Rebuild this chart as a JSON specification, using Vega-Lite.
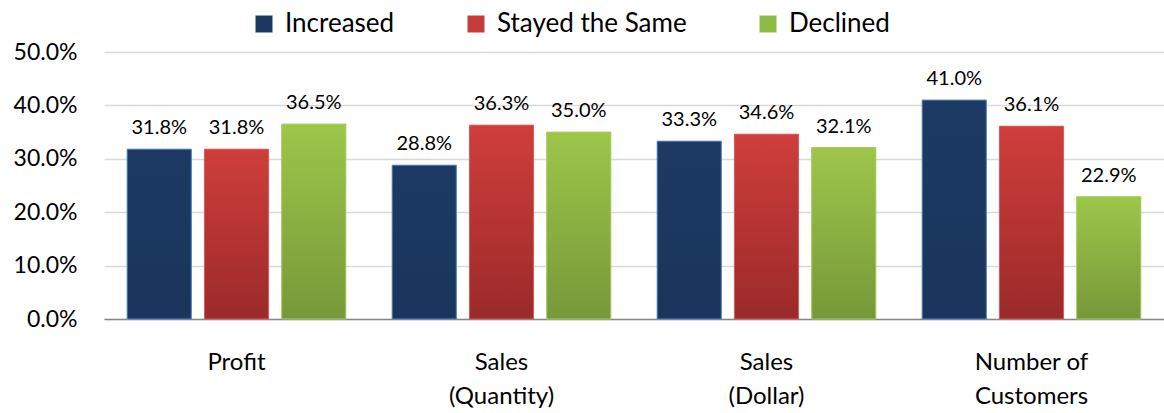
{
  "$schema": "https://vega.github.io/schema/vega-lite/v6.json",
  "width": 1060,
  "height": 267,
  "autosize": {"type": "none"},
  "padding": {"left": 104, "top": 52, "right": 0, "bottom": 94},
  "background": "white",
  "config": {
    "view": {"stroke": null},
    "font": "Lato",
    "axis": {"labelColor": "#000", "labelFont": "Lato"},
    "legend": {"labelFont": "Lato"}
  },
  "data": {
    "values": [
      {"cat": "Profit", "s": "Increased", "v": 0.318},
      {"cat": "Profit", "s": "Stayed the Same", "v": 0.318},
      {"cat": "Profit", "s": "Declined", "v": 0.365},
      {"cat": "Sales|(Quantity)", "s": "Increased", "v": 0.288},
      {"cat": "Sales|(Quantity)", "s": "Stayed the Same", "v": 0.363},
      {"cat": "Sales|(Quantity)", "s": "Declined", "v": 0.350},
      {"cat": "Sales|(Dollar)", "s": "Increased", "v": 0.333},
      {"cat": "Sales|(Dollar)", "s": "Stayed the Same", "v": 0.346},
      {"cat": "Sales|(Dollar)", "s": "Declined", "v": 0.321},
      {"cat": "Number of|Customers", "s": "Increased", "v": 0.410},
      {"cat": "Number of|Customers", "s": "Stayed the Same", "v": 0.361},
      {"cat": "Number of|Customers", "s": "Declined", "v": 0.229}
    ]
  },
  "encoding": {
    "x": {
      "field": "cat",
      "type": "nominal",
      "sort": ["Profit", "Sales|(Quantity)", "Sales|(Dollar)", "Number of|Customers"],
      "scale": {"paddingInner": 0, "paddingOuter": 0},
      "axis": {
        "title": null,
        "labelAngle": 0,
        "labelExpr": "split(datum.label, '|')",
        "labelFontSize": 24,
        "labelLineHeight": 34,
        "labelPadding": 31,
        "ticks": false,
        "domainColor": "#888888",
        "domainWidth": 1.5,
        "grid": false
      }
    },
    "xOffset": {
      "field": "s",
      "type": "nominal",
      "scale": {"domain": ["Increased", "Stayed the Same", "Declined"], "paddingInner": 0.17, "paddingOuter": 0.3}
    },
    "y": {
      "field": "v",
      "type": "quantitative",
      "scale": {"domain": [0, 0.5], "nice": false},
      "axis": {
        "title": null,
        "values": [0, 0.1, 0.2, 0.3, 0.4, 0.5],
        "format": ".1%",
        "labelFontSize": 23,
        "labelPadding": 27,
        "ticks": false,
        "domain": false,
        "gridColor": "#D9D9D9",
        "gridWidth": 1.5
      }
    }
  },
  "layer": [
    {
      "mark": {"type": "bar"},
      "encoding": {
        "color": {
          "field": "s",
          "type": "nominal",
          "scale": {"domain": ["Increased", "Stayed the Same", "Declined"], "range": ["#1B3961", "#C63A38", "#8DB945"]},
          "legend": {
            "title": null,
            "orient": "none",
            "legendX": 147,
            "legendY": -41,
            "direction": "horizontal",
            "symbolType": "square",
            "symbolSize": 289,
            "symbolStrokeWidth": 0,
            "labelFontSize": 26,
            "labelOffset": 8,
            "labelLimit": 400,
            "columnPadding": 68,
            "padding": 0
          }
        }
      }
    },
    {
      "transform": [{"filter": "datum.s == 'Increased'"}],
      "mark": {
        "type": "bar",
        "stroke": "#5B86C5",
        "strokeWidth": 1,
        "color": {"gradient": "linear", "x1": 0, "y1": 0, "x2": 0, "y2": 1,
          "stops": [{"offset": 0, "color": "#1C3A63"}, {"offset": 1, "color": "#19355B"}]}
      }
    },
    {
      "transform": [{"filter": "datum.s == 'Stayed the Same'"}],
      "mark": {
        "type": "bar",
        "stroke": "#D85F5C",
        "strokeWidth": 1,
        "color": {"gradient": "linear", "x1": 0, "y1": 0, "x2": 0, "y2": 1,
          "stops": [{"offset": 0, "color": "#CF3E3B"}, {"offset": 1, "color": "#9B2A2A"}]}
      }
    },
    {
      "transform": [{"filter": "datum.s == 'Declined'"}],
      "mark": {
        "type": "bar",
        "stroke": "#A6CF62",
        "strokeWidth": 1,
        "color": {"gradient": "linear", "x1": 0, "y1": 0, "x2": 0, "y2": 1,
          "stops": [{"offset": 0, "color": "#9DC64A"}, {"offset": 1, "color": "#779838"}]}
      }
    },
    {
      "mark": {"type": "text", "baseline": "alphabetic", "dy": -15, "fontSize": 20, "color": "#000"},
      "encoding": {
        "text": {"field": "v", "type": "quantitative", "format": ".1%"}
      }
    }
  ]
}
